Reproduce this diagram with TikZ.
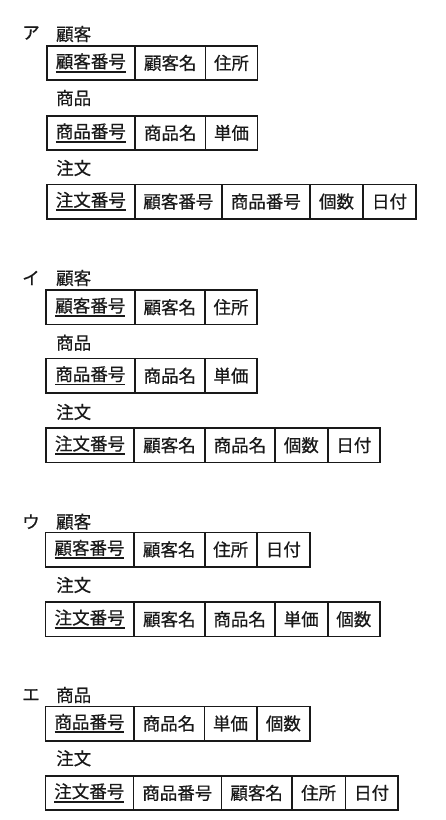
\documentclass[tikz,border=0pt]{standalone}
\usepackage{fontspec}
\setmainfont{Noto Sans CJK JP}[FakeBold=0.6]
\newcommand\keyul[1]{\setbox0\hbox{#1}\rlap{\rule[-4.6pt]{\wd0}{1.7pt}}\box0}
\begin{document}
\begin{tikzpicture}[x=1pt,y=-1pt,
  every node/.style={font=\fontsize{17.5pt}{19pt}\selectfont, text=black!90},
  cell/.style={draw=black!90, line width=1.6pt, inner sep=0pt, outer sep=0pt, minimum height=34.4pt, anchor=north west},
  lbl/.style={anchor=west, inner sep=0pt},
  optlbl/.style={anchor=center, inner sep=0pt}]
\useasboundingbox (0,0) rectangle (445,820);
% ---------- ア ----------
\node[optlbl] (ma) at (31,33) {ア};
\node[lbl] (la1) at (56,34) {顧客};
\node[cell, minimum width=88.3] (a11) at (46.7,45.7) {\keyul{顧客番号}};
\node[cell, minimum width=70.5] (a12) at (a11.north east) {顧客名};
\node[cell, minimum width=52] (a13) at (a12.north east) {住所};
\node[lbl] (la2) at (56,98) {商品};
\node[cell, minimum width=88.3] (a21) at (46.7,115.7) {\keyul{商品番号}};
\node[cell, minimum width=70.5] (a22) at (a21.north east) {商品名};
\node[cell, minimum width=52] (a23) at (a22.north east) {単価};
\node[lbl] (la3) at (56,168) {注文};
\node[cell, minimum width=88.3] (a31) at (46.7,184.3) {\keyul{注文番号}};
\node[cell, minimum width=86.7] (a32) at (a31.north east) {顧客番号};
\node[cell, minimum width=88.3] (a33) at (a32.north east) {商品番号};
\node[cell, minimum width=53] (a34) at (a33.north east) {個数};
\node[cell, minimum width=53] (a35) at (a34.north east) {日付};
% ---------- イ ----------
\node[optlbl] (mi) at (31,278) {イ};
\node[lbl] (li1) at (56,278) {顧客};
\node[cell, minimum width=88.7] (i11) at (46,290) {\keyul{顧客番号}};
\node[cell, minimum width=70.3] (i12) at (i11.north east) {顧客名};
\node[cell, minimum width=52] (i13) at (i12.north east) {住所};
\node[lbl] (li2) at (56,342.7) {商品};
\node[cell, minimum width=88.7] (i21) at (46,358.5) {\keyul{商品番号}};
\node[cell, minimum width=70.3] (i22) at (i21.north east) {商品名};
\node[cell, minimum width=52] (i23) at (i22.north east) {単価};
\node[lbl] (li3) at (56,412) {注文};
\node[cell, minimum width=88] (i31) at (46,428) {\keyul{注文番号}};
\node[cell, minimum width=71] (i32) at (i31.north east) {顧客名};
\node[cell, minimum width=70] (i33) at (i32.north east) {商品名};
\node[cell, minimum width=52.7] (i34) at (i33.north east) {個数};
\node[cell, minimum width=52.3] (i35) at (i34.north east) {日付};
% ---------- ウ ----------
\node[optlbl] (mu) at (31,521.7) {ウ};
\node[lbl] (lu1) at (56,521.7) {顧客};
\node[cell, minimum width=88.4] (u11) at (45.3,532.3) {\keyul{顧客番号}};
\node[cell, minimum width=71] (u12) at (u11.north east) {顧客名};
\node[cell, minimum width=52] (u13) at (u12.north east) {住所};
\node[cell, minimum width=53.3] (u14) at (u13.north east) {日付};
\node[lbl] (lu2) at (56,585) {注文};
\node[cell, minimum width=88.7] (u21) at (45.3,602) {\keyul{注文番号}};
\node[cell, minimum width=70.7] (u22) at (u21.north east) {顧客名};
\node[cell, minimum width=70] (u23) at (u22.north east) {商品名};
\node[cell, minimum width=53] (u24) at (u23.north east) {単価};
\node[cell, minimum width=52.3] (u25) at (u24.north east) {個数};
% ---------- エ ----------
\node[optlbl] (me) at (31,695) {エ};
\node[lbl] (le1) at (56,695) {商品};
\node[cell, minimum width=88.4] (e11) at (45.3,706.3) {\keyul{商品番号}};
\node[cell, minimum width=70.6] (e12) at (e11.north east) {商品名};
\node[cell, minimum width=52.4] (e13) at (e12.north east) {単価};
\node[cell, minimum width=53.3] (e14) at (e13.north east) {個数};
\node[lbl] (le2) at (56,758.3) {注文};
\node[cell, minimum width=88] (e21) at (45.3,775.7) {\keyul{注文番号}};
\node[cell, minimum width=88] (e22) at (e21.north east) {商品番号};
\node[cell, minimum width=70.7] (e23) at (e22.north east) {顧客名};
\node[cell, minimum width=53.3] (e24) at (e23.north east) {住所};
\node[cell, minimum width=52.7] (e25) at (e24.north east) {日付};
\end{tikzpicture}
\end{document}
